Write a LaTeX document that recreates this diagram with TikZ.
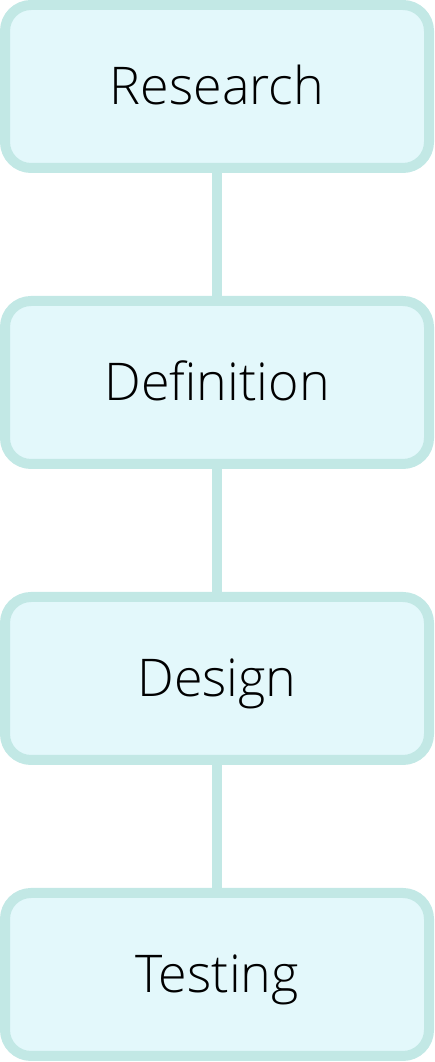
\documentclass[tikz,border=0pt]{standalone}
\usepackage{fontspec}
\setmainfont{Open Sans Light}
\usepackage{tikz}
\usepackage{color}
\usetikzlibrary{positioning, calc}
\usetikzlibrary{backgrounds}
\definecolor{stageline}{RGB}{194,232,229}
\definecolor{stagefill}{RGB}{227,248,251}

\begin{document}
\begin{tikzpicture}[x=1pt, y=1pt,
        stagebox/.style={draw=stageline, fill=stagefill, line width=10pt, rounded corners=26pt,
            minimum width=424pt, minimum height=163pt, outer sep=0pt, inner sep=0pt,
            text height=37pt, text depth=0pt, font=\fontsize{52}{60}\selectfont},
        stagelink/.style={draw=stageline, line width=10pt}]
                    \useasboundingbox (0,0) rectangle (434,1062);
                    \node[stagebox] (research) at (217,975.5) {Research};
                    \node[stagebox, below=133pt of research] (definition) {Definition};
                    \node[stagebox, below=133pt of definition] (design) {Design};
                    \node[stagebox, below=133pt of design] (testing) {Testing};
                    \begin{scope}[on background layer]
                    \draw[stagelink] (research) -- (definition);
                    \draw[stagelink] (definition) -- (design);
                    \draw[stagelink] (design) -- (testing);
                    \end{scope}
                \end{tikzpicture}
\end{document}
